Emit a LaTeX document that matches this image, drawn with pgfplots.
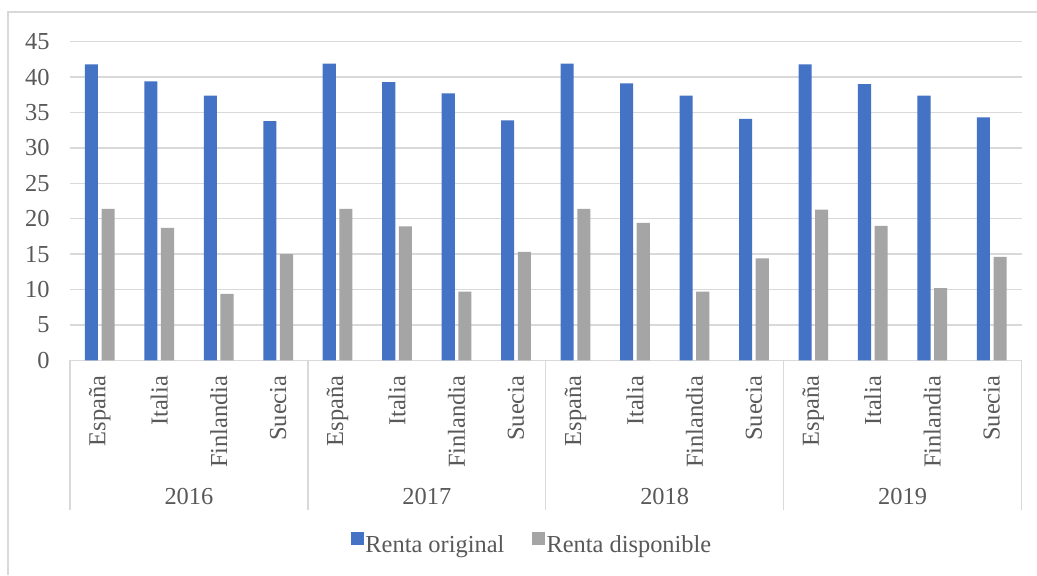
\documentclass[border=0pt]{standalone}
\usepackage{fontspec}
\setmainfont{Liberation Serif}
\usepackage{pgfplots}
\pgfplotsset{compat=1.18}
\definecolor{cblue}{HTML}{4472C4}
\definecolor{cgray}{HTML}{A5A5A5}
\definecolor{gridcol}{HTML}{D9D9D9}
\definecolor{textcol}{HTML}{595959}
\begin{document}
\fontsize{12.2}{14}\selectfont
\begin{tikzpicture}
\useasboundingbox (0,0) rectangle (518.5pt,287.5pt);
\fill[white] (0,0) rectangle (518.5pt,287.5pt);
\begin{axis}[
  at={(35pt,107.35pt)}, anchor=south west,
  scale only axis, width=475.75pt, height=159.3pt,
  xmin=-0.5, xmax=15.5, ymin=0, ymax=45,
  ytick={0,5,...,45},
  xtick={0,...,15},
  xticklabels={España,Italia,Finlandia,Suecia,España,Italia,Finlandia,Suecia,España,Italia,Finlandia,Suecia,España,Italia,Finlandia,Suecia},
  major tick length=0pt,
  axis lines*=left,
  x axis line style={draw=gridcol, line width=0.7pt},
  y axis line style={draw=none},
  ymajorgrids,
  grid style={draw=gridcol, line width=0.7pt},
  /pgf/number format/assume math mode=true,
  tick label style={text=textcol},
  yticklabel style={inner sep=0pt, anchor=east},
  yticklabel shift=10pt,
  xticklabel style={rotate=90, anchor=east, inner sep=0pt},
  xticklabel shift=7.5pt,
  clip=false,
  legend columns=2,
  legend cell align=left,
  legend style={draw=none, fill=none, at={(0.4856,-0.5797)}, anchor=center,
    inner sep=0pt, nodes={inner sep=0.9pt, text=textcol},
    /tikz/every even column/.append style={column sep=13pt}},
  legend image code/.code={\fill[#1] (0pt,0.2pt) rectangle (6.3pt,6.5pt);},
]
\addplot[ybar, bar width=0.22, bar shift=-0.14, fill=cblue, draw=none] coordinates {
  (0,41.8) (1,39.4) (2,37.4) (3,33.8)
  (4,41.9) (5,39.3) (6,37.7) (7,33.9)
  (8,41.9) (9,39.1) (10,37.4) (11,34.1)
  (12,41.8) (13,39.0) (14,37.4) (15,34.3)};
\addlegendentry{Renta original}
\addplot[ybar, bar width=0.22, bar shift=0.14, fill=cgray, draw=none] coordinates {
  (0,21.4) (1,18.7) (2,9.4) (3,15.0)
  (4,21.4) (5,18.9) (6,9.7) (7,15.3)
  (8,21.4) (9,19.4) (10,9.7) (11,14.4)
  (12,21.3) (13,19.0) (14,10.2) (15,14.6)};
\addlegendentry{Renta disponible}
\draw[gridcol, line width=0.7pt] (axis cs:-0.5,0) -- ++(0pt,-75pt);
\draw[gridcol, line width=0.7pt] (axis cs:3.5,0) -- ++(0pt,-75pt);
\draw[gridcol, line width=0.7pt] (axis cs:7.5,0) -- ++(0pt,-75pt);
\draw[gridcol, line width=0.7pt] (axis cs:11.5,0) -- ++(0pt,-75pt);
\draw[gridcol, line width=0.7pt] (axis cs:15.5,0) -- ++(0pt,-75pt);
\node[text=textcol, yshift=-67.85pt] at (axis cs:1.5,0) {2016};
\node[text=textcol, yshift=-67.85pt] at (axis cs:5.5,0) {2017};
\node[text=textcol, yshift=-67.85pt] at (axis cs:9.5,0) {2018};
\node[text=textcol, yshift=-67.85pt] at (axis cs:13.5,0) {2019};
\end{axis}
\draw[gridcol, line width=0.7pt] (4pt,0) -- (4pt,281.5pt) -- (518.5pt,281.5pt);
\end{tikzpicture}
\end{document}
